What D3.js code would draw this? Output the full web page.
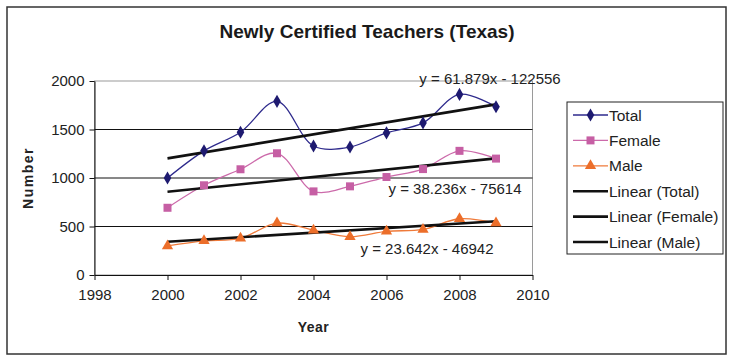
<!DOCTYPE html>
<html>
<head>
<meta charset="utf-8">
<script src="https://cdn.jsdelivr.net/npm/d3@7"></script>
<style>
  body { margin: 0; background: #fff; }
  svg text { font-family: Arial, "Liberation Sans", sans-serif; }
</style>
</head>
<body>
<svg id="chart" width="732" height="361"></svg>
<script>
// ---- data ----
const years = [2000, 2001, 2002, 2003, 2004, 2005, 2006, 2007, 2008, 2009];
const totalValues  = [1000, 1280, 1472, 1790, 1330, 1320, 1465, 1568, 1862, 1735];
const femaleValues = [693, 925, 1090, 1255, 862, 914, 1010, 1092, 1280, 1200];
const maleValues   = [300, 352, 378, 535, 462, 395, 450, 470, 580, 535];
const trendSlopes     = [61.879, 38.236, 23.642];
const trendIntercepts = [-122556, -75614, -46942];
const trendLabels = ["y = 61.879x - 122556", "y = 38.236x - 75614", "y = 23.642x - 46942"];
const seriesNames = ["Total", "Female", "Male"];
const legendLabels = ["Total", "Female", "Male", "Linear (Total)", "Linear (Female)", "Linear (Male)"];
const xTicks = [1998, 2000, 2002, 2004, 2006, 2008, 2010];
const yTicks = [0, 500, 1000, 1500, 2000];

const colors = { line: ["#2e2a8c", "#cc6aaa", "#ef7a3a"], marker: ["#1e1a70", "#c65fa4", "#ec6e2a"] };

const svg = d3.select("#chart");

// outer border
svg.append("rect").attr("x", 7).attr("y", 7).attr("width", 719).attr("height", 347)
  .attr("fill", "#fff").attr("stroke", "#333").attr("stroke-width", 1.5);

// title
svg.append("text").attr("x", 367).attr("y", 38).attr("text-anchor", "middle")
  .attr("font-size", 19).attr("font-weight", "bold").attr("fill", "#1a1a1a")
  .text("Newly Certified Teachers (Texas)");

const x = d3.scaleLinear().domain([1998, 2010]).range([94.5, 532.5]);
const y = d3.scaleLinear().domain([0, 2000]).range([275, 81]);

// plot border (grey)
svg.append("rect").attr("x", x(1998)).attr("y", y(2000))
  .attr("width", x(2010) - x(1998)).attr("height", y(0) - y(2000))
  .attr("fill", "none").attr("stroke", "#9a9a9a").attr("stroke-width", 1);

// gridlines
svg.append("g").selectAll("line").data(yTicks.filter(d => d > 0 && d < 2000)).join("line")
  .attr("x1", x(1998)).attr("x2", x(2010)).attr("y1", d => y(d)).attr("y2", d => y(d))
  .attr("stroke", "#111").attr("stroke-width", 1);

// axes
const xAxis = d3.axisBottom(x).tickValues(xTicks).tickFormat(d3.format("d")).tickSizeInner(5).tickSizeOuter(0).tickPadding(9);
const yAxis = d3.axisLeft(y).tickValues(yTicks).tickFormat(d3.format("d")).tickSizeInner(5).tickSizeOuter(0).tickPadding(5);
const gx = svg.append("g").attr("transform", `translate(0,${y(0)})`).call(xAxis);
const gy = svg.append("g").attr("transform", `translate(${x(1998)},0)`).call(yAxis);
[gx, gy].forEach(g => {
  g.select(".domain").attr("stroke", "#111");
  g.selectAll(".tick line").attr("stroke", "#111");
  g.selectAll(".tick text").attr("font-size", 15).attr("fill", "#222")
    .attr("font-family", "Arial, 'Liberation Sans', sans-serif");
});

// axis titles
svg.append("text").attr("x", (x(1998) + x(2010)) / 2).attr("y", 332).attr("text-anchor", "middle")
  .attr("font-size", 14).attr("font-weight", "bold").attr("letter-spacing", 0.5).attr("fill", "#222").text("Year");
svg.append("text").attr("transform", `translate(33,${(y(0) + y(2000)) / 2}) rotate(-90)`)
  .attr("text-anchor", "middle").attr("font-size", 14).attr("font-weight", "bold")
  .attr("letter-spacing", 1.5).attr("fill", "#222").text("Number");

// series
const allSeries = [totalValues, femaleValues, maleValues];
const line = d3.line().x(d => x(d[0])).y(d => y(d[1])).curve(d3.curveCatmullRom.alpha(0.5));

const symbolTypes = [d3.symbolDiamond, d3.symbolSquare, d3.symbolTriangle];
const symbolSizes = [50, 64, 55];

allSeries.forEach((vals, i) => {
  const pts = years.map((yr, j) => [yr, vals[j]]);
  svg.append("path").datum(pts).attr("d", line).attr("fill", "none")
    .attr("stroke", colors.line[i]).attr("stroke-width", 1.3);
});

// trend lines
trendSlopes.forEach((m, i) => {
  const b = trendIntercepts[i];
  const x0 = years[0], x1 = years[years.length - 1];
  svg.append("line").attr("x1", x(x0)).attr("y1", y(m * x0 + b))
    .attr("x2", x(x1)).attr("y2", y(m * x1 + b))
    .attr("stroke", "#111").attr("stroke-width", 2.6);
});

// markers
allSeries.forEach((vals, i) => {
  svg.append("g").selectAll("path").data(years.map((yr, j) => [yr, vals[j]])).join("path")
    .attr("transform", d => `translate(${x(d[0])},${y(d[1])})`)
    .attr("d", d3.symbol().type(symbolTypes[i]).size(symbolSizes[i]))
    .attr("fill", colors.marker[i]);
});

// trend equations
const eqPos = [[490, 84], [455, 194], [427, 254]];
trendLabels.forEach((t, i) => {
  svg.append("text").attr("x", eqPos[i][0]).attr("y", eqPos[i][1]).attr("text-anchor", "middle")
    .attr("font-size", 15).attr("fill", "#222").text(t);
});

// legend
const lg = svg.append("g");
lg.append("rect").attr("x", 567).attr("y", 102).attr("width", 156).attr("height", 152)
  .attr("fill", "#fff").attr("stroke", "#222").attr("stroke-width", 1);
legendLabels.forEach((lab, i) => {
  const cy = 115 + i * 25.4;
  const isTrend = i >= 3;
  lg.append("line").attr("x1", 573).attr("x2", 608).attr("y1", cy).attr("y2", cy)
    .attr("stroke", isTrend ? "#111" : colors.line[i]).attr("stroke-width", isTrend ? 2.6 : 1.3);
  if (!isTrend) {
    lg.append("path").attr("transform", `translate(590.5,${cy})`)
      .attr("d", d3.symbol().type(symbolTypes[i]).size(symbolSizes[i]))
      .attr("fill", colors.marker[i]);
  }
  lg.append("text").attr("x", 609).attr("y", cy + 5.5).attr("font-size", 15.5)
    .attr("fill", "#222").text(lab);
});
</script>
</body>
</html>
